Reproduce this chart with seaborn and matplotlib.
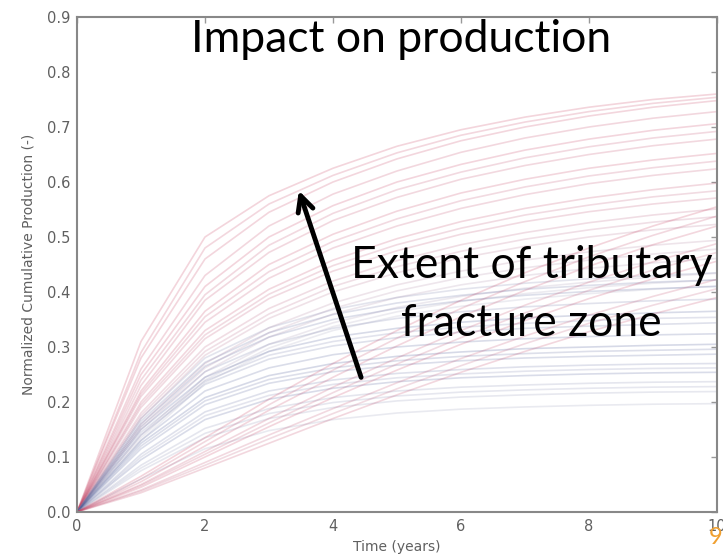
import matplotlib
matplotlib.use("Agg")
import matplotlib.pyplot as plt
import numpy as np
import pandas as pd
import seaborn as sns

# Simulation time axis (years)
time = [0, 1, 2, 3, 4, 5, 6, 7, 8, 9, 10]

# Wide tributary zones: fast early production, high plateau
fast_runs = [
    [0, .31, .500, .575, .625, .665, .695, .718, .736, .750, .760],
    [0, .29, .480, .560, .612, .653, .685, .709, .728, .743, .754],
    [0, .28, .460, .545, .600, .642, .675, .700, .720, .736, .748],
    [0, .26, .430, .520, .578, .620, .654, .680, .700, .716, .728],
    [0, .25, .410, .500, .557, .600, .632, .658, .678, .694, .706],
    [0, .24, .395, .485, .543, .586, .618, .644, .664, .680, .692],
    [0, .23, .385, .472, .530, .572, .605, .630, .650, .666, .678],
    [0, .22, .365, .450, .505, .547, .580, .605, .625, .640, .652],
    [0, .215, .355, .437, .492, .533, .566, .591, .611, .626, .638],
    [0, .21, .345, .425, .480, .520, .552, .577, .597, .612, .624],
    [0, .20, .330, .405, .458, .497, .528, .552, .571, .586, .598],
    [0, .195, .322, .396, .448, .486, .516, .540, .558, .573, .584],
    [0, .19, .315, .388, .438, .475, .505, .528, .546, .560, .571],
]
fast_tone = [0.98, 0.93, 0.95, 0.92, 0.96, 0.89, 0.90, 0.94, 0.87, 0.88,
             0.91, 0.84, 0.86]

# Intermediate zones
mid_runs = [
    [0, .18, .300, .370, .420, .457, .486, .508, .526, .540, .551],
    [0, .175, .292, .360, .410, .446, .474, .496, .513, .527, .537],
    [0, .17, .285, .352, .400, .435, .462, .483, .500, .513, .523],
    [0, .16, .270, .335, .380, .413, .438, .458, .473, .485, .494],
    [0, .155, .262, .326, .370, .402, .426, .444, .458, .469, .478],
    [0, .15, .255, .318, .360, .390, .413, .430, .443, .453, .461],
    [0, .14, .245, .305, .344, .372, .392, .407, .418, .427, .434],
    [0, .135, .240, .298, .337, .364, .383, .397, .408, .416, .422],
    [0, .13, .235, .292, .330, .356, .374, .387, .397, .405, .411],
]
mid_tone = [0.80, 0.76, 0.72, 0.65, 0.62, 0.60, 0.55, 0.52, 0.50]

# Narrow zones: early plateau at low recovery
narrow_runs = [
    [0, .170, .280, .335, .368, .390, .405, .416, .424, .430, .435],
    [0, .165, .272, .326, .359, .380, .394, .405, .412, .418, .422],
    [0, .160, .265, .318, .350, .370, .384, .394, .401, .406, .410],
    [0, .155, .255, .305, .334, .352, .364, .373, .379, .384, .387],
    [0, .150, .245, .292, .318, .334, .345, .353, .358, .362, .365],
    [0, .145, .238, .285, .310, .326, .336, .343, .348, .352, .354],
    [0, .140, .232, .278, .302, .317, .327, .334, .338, .341, .344],
    [0, .130, .220, .262, .286, .300, .309, .315, .319, .322, .324],
    [0, .125, .208, .248, .270, .283, .291, .297, .300, .303, .305],
    [0, .120, .202, .241, .262, .275, .283, .288, .292, .294, .296],
    [0, .115, .195, .234, .255, .267, .275, .280, .283, .285, .287],
    [0, .105, .182, .220, .240, .252, .259, .264, .267, .269, .270],
    [0, .100, .175, .212, .232, .244, .251, .256, .259, .261, .262],
    [0, .095, .168, .205, .225, .237, .244, .248, .251, .253, .254],
    [0, .085, .152, .188, .208, .220, .227, .231, .234, .236, .237],
    [0, .080, .143, .179, .199, .211, .218, .222, .225, .227, .228],
    [0, .075, .135, .170, .190, .202, .209, .213, .216, .218, .219],
    [0, .060, .115, .148, .168, .180, .187, .191, .194, .196, .197],
]
narrow_tone = [0.30, 0.18, 0.15, 0.25, 0.05, 0.28, 0.20, 0.10, 0.00, 0.16,
               0.12, 0.22, 0.32, 0.08, 0.35, 0.38, 0.40, 0.45]

# Low-permeability matrix cases: slow start, steady late growth
slow_runs = [
    [0, .065, .135, .205, .270, .330, .385, .435, .480, .520, .555],
    [0, .060, .128, .195, .258, .316, .370, .419, .464, .503, .538],
    [0, .055, .120, .185, .245, .302, .355, .403, .447, .486, .520],
    [0, .050, .110, .170, .227, .280, .330, .376, .418, .455, .488],
    [0, .048, .105, .162, .217, .269, .317, .362, .403, .440, .472],
    [0, .045, .100, .155, .208, .258, .305, .348, .388, .424, .456],
    [0, .040, .090, .140, .188, .235, .279, .320, .358, .392, .423],
    [0, .038, .085, .133, .179, .224, .266, .306, .343, .376, .406],
    [0, .035, .080, .125, .170, .213, .254, .292, .328, .360, .390],
]
slow_tone = [0.97, 0.90, 0.93, 0.90, 0.86, 0.95, 0.88, 0.84, 0.92]

rows = []
tones = {}
run_id = 0
for runs, tone_list in [(fast_runs, fast_tone), (mid_runs, mid_tone),
                        (narrow_runs, narrow_tone), (slow_runs, slow_tone)]:
    for run, tone in zip(runs, tone_list):
        for t, v in zip(time, run):
            rows.append({"run": run_id, "time": t, "production": v})
        tones[run_id] = tone
        run_id += 1
df = pd.DataFrame(rows)

cmap = sns.blend_palette(["#34448a", "#a0a0bc", "#c8284c"], as_cmap=True)
palette = {k: cmap(v) for k, v in tones.items()}

sns.set_style("white")
plt.rcParams["font.family"] = ["DejaVu Sans"]

fig = plt.figure(figsize=(7.23, 5.57), dpi=100)
ax = fig.add_axes([77 / 723, 1 - 512 / 557, 640 / 723, 495 / 557])

sns.lineplot(data=df, x="time", y="production", hue="run", palette=palette,
             legend=False, alpha=0.2, linewidth=1.2, estimator=None,
             sort=False, ax=ax)

ax.set_xlim(0, 10)
ax.set_ylim(0, 0.9)
ax.set_xticks([0, 2, 4, 6, 8, 10])
ax.set_yticks(np.arange(0, 0.91, 0.1))
ax.set_yticklabels([f"{v:.1f}" for v in np.arange(0, 0.91, 0.1)])
ax.tick_params(direction="in", length=4, width=1, color="#999999",
               labelcolor="#606060", labelsize=10.5, top=True, right=True,
               pad=5)
for s in ax.spines.values():
    s.set_color("#888888")
    s.set_linewidth(1.5)
ax.set_xlabel("Time (years)", fontsize=10, color="#606060", labelpad=4)
ax.set_ylabel("Normalized Cumulative Production (-)", fontsize=10,
              color="#606060", labelpad=8)

fig.text(401 / 723, 1 - 40 / 557, "Impact on production", fontsize=32,
         family=["Lato", "DejaVu Sans"], ha="center", va="center",
         color="black")
fig.text(532 / 723, 1 - 265 / 557, "Extent of tributary", fontsize=32,
         family=["Lato", "DejaVu Sans"], ha="center", va="center",
         color="black")
fig.text(531 / 723, 1 - 323 / 557, "fracture zone", fontsize=32,
         family=["Lato", "DejaVu Sans"], ha="center", va="center",
         color="black")

ax.annotate("", xy=(298, 557 - 188), xycoords="figure pixels",
            xytext=(362, 557 - 380), textcoords="figure pixels",
            arrowprops=dict(arrowstyle="->", lw=3.5, color="black",
                            mutation_scale=28))

fig.text(709 / 723, 1 - 538 / 557, "9", color="#f0a030", fontsize=17,
         family=["Lato", "DejaVu Sans"], ha="left", va="center")

fig.savefig("out.png", dpi=100)
